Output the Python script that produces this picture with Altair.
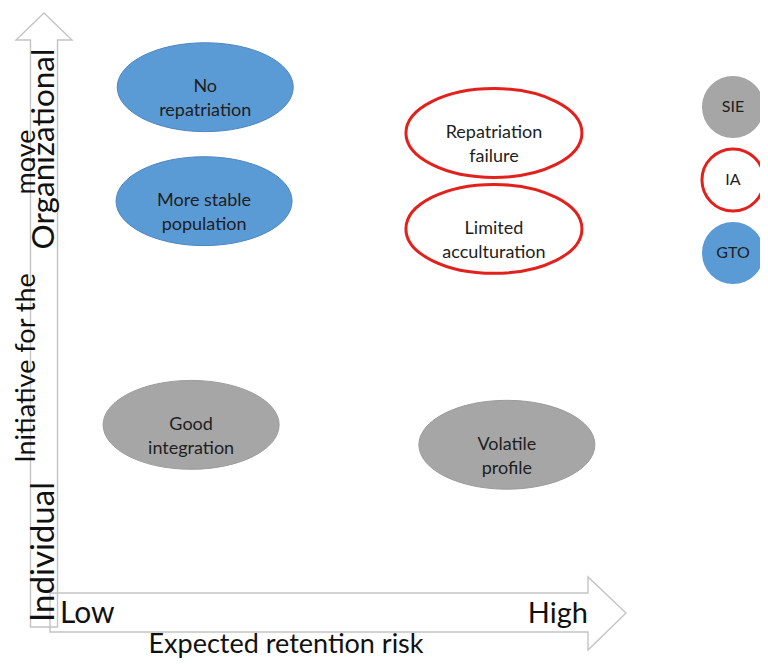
import altair as alt
import pandas as pd

# ---- data ----
categories = ["No repatriation", "More stable population", "Repatriation failure",
              "Limited acculturation", "Good integration", "Volatile profile"]
label_lines = ["No\nrepatriation", "More stable\npopulation", "Repatriation\nfailure",
               "Limited\nacculturation", "Good\nintegration", "Volatile\nprofile"]
retention_risk = [28.1, 27.9, 77.2, 77.2, 25.7, 79.4]      # 0 = Low, 100 = High
initiative = [87.2, 68.3, 79.6, 63.7, 31.2, 27.9]          # 0 = Individual, 100 = Organizational
group = ["GTO", "GTO", "IA", "IA", "SIE", "SIE"]
legend_groups = ["SIE", "IA", "GTO"]

df = pd.DataFrame({"category": categories, "label": label_lines,
                   "risk": retention_risk, "initiative": initiative, "group": group})
legend_df = pd.DataFrame({"group": legend_groups})
one = pd.DataFrame({"k": [0]})

# ---- styles ----
W, H = 752, 650
FONT = "Lato"
fill_scale = alt.Scale(domain=legend_groups, range=["#a6a6a6", "#ffffff", "#5b9bd5"])
stroke_scale = alt.Scale(domain=legend_groups, range=["#9c9c9c", "#e3211c", "#4f86c0"])
x_scale = alt.Scale(domain=[0, 100], range=[32, 620], nice=False, zero=False)
y_scale = alt.Scale(domain=[0, 100], range=[605, 2], nice=False, zero=False)

ELLIPSE = ("M -1 0 C -1 -0.279 -0.552 -0.505 0 -0.505 C 0.552 -0.505 1 -0.279 1 0 "
           "C 1 0.279 0.552 0.505 0 0.505 C -0.552 0.505 -1 0.279 -1 0 Z")
V_ARROW = "M 0 0 L 28 27 L 13.5 27 L 13.5 614 L -13.5 614 L -13.5 27 L -28 27 Z"
H_ARROW = "M 0 0 L -38 -36 L -38 -20 L -576 -20 L -576 19 L -38 19 L -38 37 Z"
ARROW_COLOR = "#c4c4c4"

# ---- arrows (axes) ----
v_arrow = alt.Chart(one).mark_point(shape=V_ARROW, size=4, filled=False, opacity=1,
                                    stroke=ARROW_COLOR, strokeWidth=1.4).encode(
    x=alt.value(36), y=alt.value(5))
h_arrow = alt.Chart(one).mark_point(shape=H_ARROW, size=4, filled=False, opacity=1,
                                    stroke=ARROW_COLOR, strokeWidth=1.4).encode(
    x=alt.value(618), y=alt.value(605))

# ---- ellipses ----
ellipses = alt.Chart(df).mark_point(shape=ELLIPSE, size=176 * 176, filled=True,
                                    opacity=1, fillOpacity=1, strokeOpacity=1).encode(
    x=alt.X("risk:Q", scale=x_scale, axis=None),
    y=alt.Y("initiative:Q", scale=y_scale, axis=None),
    fill=alt.Fill("group:N", scale=fill_scale, legend=None),
    stroke=alt.Stroke("group:N", scale=stroke_scale, legend=None),
    strokeWidth=alt.condition(alt.datum.group == "IA", alt.value(3), alt.value(1)),
)
labels = alt.Chart(df).mark_text(font=FONT, fontSize=18, lineBreak="\n", lineHeight=24,
                                 align="center", baseline="middle", color="#1e1e1e").encode(
    x=alt.X("risk:Q", scale=x_scale, axis=None),
    y=alt.Y("initiative:Q", scale=y_scale, axis=None),
    text="label:N",
)

# ---- manual legend ----
legend_y = alt.Y("group:N", scale=alt.Scale(domain=legend_groups, range=[99, 245], padding=0),
                 axis=None)
legend_pts = alt.Chart(legend_df).mark_point(shape="circle", size=3850, filled=True,
                                             opacity=1, fillOpacity=1, strokeOpacity=1).encode(
    x=alt.value(725), y=legend_y,
    fill=alt.Fill("group:N", scale=fill_scale, legend=None),
    stroke=alt.Stroke("group:N", scale=stroke_scale, legend=None),
    strokeWidth=alt.condition(alt.datum.group == "IA", alt.value(3), alt.value(0)),
)
legend_txt = alt.Chart(legend_df).mark_text(font=FONT, fontSize=16, align="center",
                                            baseline="middle", color="#1e1e1e").encode(
    x=alt.value(725), y=legend_y, text="group:N")

# ---- axis texts ----
def deco(text, x, y, size, angle=0, align="center", baseline="alphabetic"):
    return alt.Chart(one).mark_text(text=text, font=FONT, fontSize=size, angle=angle,
                                    align=align, baseline=baseline, color="#111111").encode(
        x=alt.value(x), y=alt.value(y))

texts = [
    deco("Organizational", 46, 141, 31.5, angle=270),
    deco("Individual", 46, 544, 33, angle=270),
    deco("Initiative for the", 27, 360, 27, angle=270),
    deco("move", 27, 154, 27, angle=270),
    deco("Low", 52, 615, 30, align="left"),
    deco("High", 580, 615, 29, align="right"),
    deco("Expected retention risk", 278, 645, 27),
]

chart = alt.layer(v_arrow, h_arrow, ellipses, labels, legend_pts, legend_txt, *texts).resolve_scale(
    y="independent"
).properties(
    width=W, height=H, autosize=alt.AutoSizeParams(type="none"), padding=0
).configure_view(stroke=None)

chart.save("out.html", embed_options={"renderer": "svg", "actions": False})
